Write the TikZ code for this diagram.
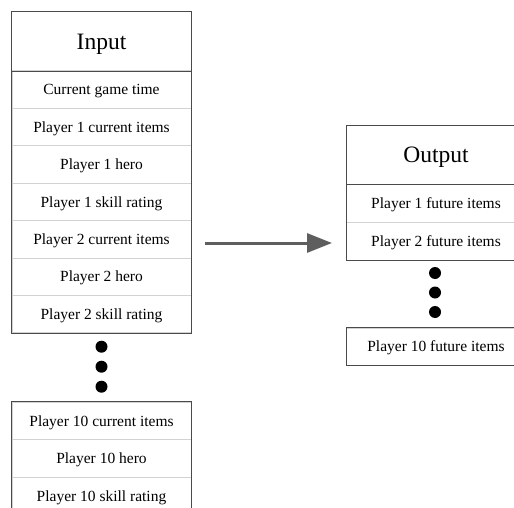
\documentclass[tikz,border=0pt]{standalone}
\usepackage{fontspec}
\setmainfont{Liberation Serif}
\usetikzlibrary{arrows.meta}

\definecolor{rowline}{HTML}{D2D2D2}
\definecolor{boxline}{HTML}{4A4A4A}
\definecolor{arrowgray}{HTML}{5E5E5E}

\begin{document}
\begin{tikzpicture}[x=1pt,y=-1pt,
  cell/.style={draw=rowline, line width=0.9pt, minimum width=179pt, minimum height=37.5pt, inner sep=0pt, text height=10.3pt, text depth=0pt, font=\fontsize{15.5}{18}\selectfont},
  head/.style={minimum width=179pt, inner sep=0pt, text height=15.6pt, text depth=0pt, font=\fontsize{23.5}{27}\selectfont},
  frame/.style={draw=boxline, line width=1.1pt},
  dot/.style={circle, fill=black, inner sep=0pt, minimum size=12pt},
  flow/.style={draw=arrowgray, line width=3pt, -{Triangle[length=25pt,width=19pt]}}]

\clip (0,0) rectangle (514,508);

% input side
\node[head, minimum height=59pt] (inhead) at (101.5,41.5) {Input};
\node[cell] (in1) at (101.5,89.7) {Current game time};
\node[cell] (in2) at (101.5,127.1) {Player 1 current items};
\node[cell] (in3) at (101.5,164.5) {Player 1 hero};
\node[cell] (in4) at (101.5,201.9) {Player 1 skill rating};
\node[cell] (in5) at (101.5,239.3) {Player 2 current items};
\node[cell] (in6) at (101.5,276.7) {Player 2 hero};
\node[cell] (in7) at (101.5,314.1) {Player 2 skill rating};
\draw[frame] (inhead.north west) rectangle (in7.south east);
\draw[frame] (inhead.south west) -- (inhead.south east);

\node[dot] (indot1) at (101.5,346.7) {};
\node[dot] (indot2) at (101.5,366.7) {};
\node[dot] (indot3) at (101.5,386.7) {};

\node[cell] (in8) at (101.5,421) {Player 10 current items};
\node[cell] (in9) at (101.5,458.5) {Player 10 hero};
\node[cell] (in10) at (101.5,496) {Player 10 skill rating};
\draw[frame] (in8.north west) rectangle (in10.south east);

% output side
\node[head, minimum height=58.3pt] (outhead) at (436,154.85) {Output};
\node[cell, minimum height=38pt] (out1) at (436,203) {Player 1 future items};
\node[cell, minimum height=38pt] (out2) at (436,241) {Player 2 future items};
\draw[frame] (outhead.north west) rectangle (out2.south east);
\draw[frame] (outhead.south west) -- (outhead.south east);

\node[dot] (outdot1) at (435,273) {};
\node[dot] (outdot2) at (435,292.5) {};
\node[dot] (outdot3) at (435,312) {};

\node[cell, minimum height=37pt] (out10) at (436,346.5) {Player 10 future items};
\draw[frame] (out10.north west) rectangle (out10.south east);

% mapping arrow
\coordinate (from) at (205,243);
\coordinate (to) at (332,243);
\draw[flow] (from) -- (to);

\end{tikzpicture}
\end{document}
